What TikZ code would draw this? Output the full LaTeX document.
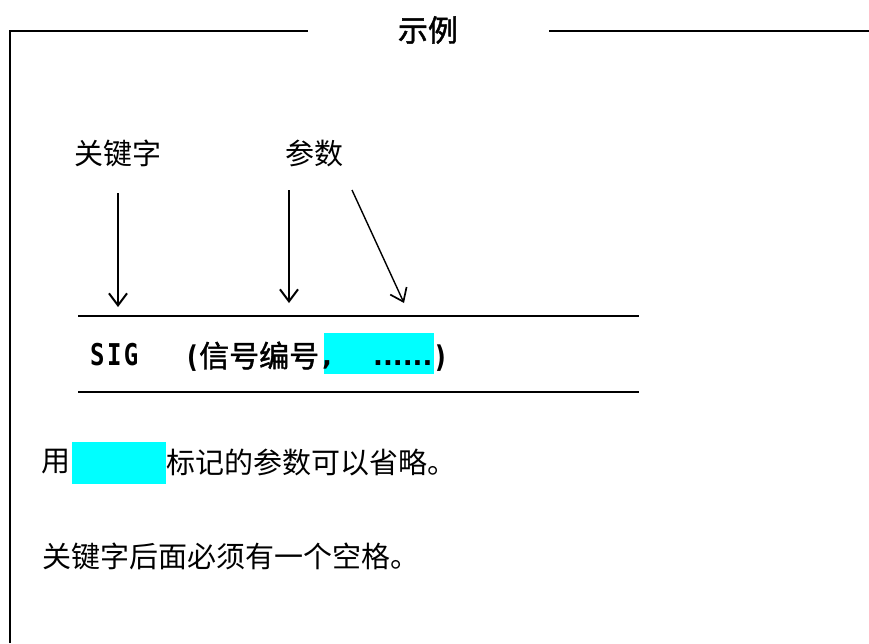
\documentclass[tikz,border=0pt]{standalone}
\usepackage{graphicx}
\usepackage{fontspec}
\usetikzlibrary{arrows.meta}
\newfontfamily\cjk{Noto Sans CJK SC}
\newfontfamily\cjkb{Noto Sans CJK SC}[FakeBold=1.5]
\newfontfamily\ascmono{DejaVu Sans Mono}
\newfontfamily\ascsans{DejaVu Sans}
\definecolor{hl}{RGB}{0,255,255}
\tikzset{
  frame/.style={line width=2pt},
  rule/.style={line width=2pt},
  lbl/.style={inner sep=0pt, font=\cjk\fontsize{29}{34}\selectfont},
  sig/.style={inner sep=0pt, anchor=base west, font=\cjkb\fontsize{30}{34}\selectfont},
  sigm/.style={inner sep=0pt, anchor=base west, font=\ascmono\bfseries\fontsize{30}{34}\selectfont},
  sigp/.style={inner sep=0pt, anchor=base west, font=\ascsans\bfseries\fontsize{26}{34}\selectfont},
  ptr/.style={line width=1.8pt, -{Straight Barb[length=12pt,width=18pt,line width=2pt]}},
  ptrthin/.style={line width=1.4pt, -{Straight Barb[length=12pt,width=18pt,line width=1.7pt]}},
  hlbox/.style={fill=hl, draw=none}
}
\begin{document}
\begin{tikzpicture}[x=1pt,y=-1pt]
\useasboundingbox (0,0) rectangle (869,643);
% frame
\draw[frame] (10,643) -- (10,31) -- (308,31);
\draw[frame] (549,31) -- (869,31);
\node[lbl, font=\cjkb\fontsize{30}{34}\selectfont] (title) at (428,30) {示例};
% labels
\node[lbl] (kw) at (118,153) {关键字};
\node[lbl] (par) at (314,153) {参数};
\coordinate (a1s) at (118,193);
\coordinate (a1e) at (118,307);
\coordinate (a2s) at (289,190);
\coordinate (a2e) at (289,303);
\coordinate (a3s) at (352,190);
\coordinate (a3e) at (404,303);
\draw[ptr] (a1s) -- (a1e);
\draw[ptr] (a2s) -- (a2e);
\draw[ptrthin] (a3s) -- (a3e);
% rules
\coordinate (r1a) at (78,316); \coordinate (r1b) at (639,316);
\coordinate (r2a) at (78,392); \coordinate (r2b) at (639,392);
\draw[rule] (r1a) -- (r1b);
\draw[rule] (r2a) -- (r2b);
% syntax line
\fill[hlbox] (324,333) rectangle (434,374);
\node[sigm] (s1) at (90,365) {\scalebox{0.8}[1]{\addfontfeatures{LetterSpace=10}SIG}};
\node[sigp] (s2) at (187,367) {\scalebox{0.9}[1.15]{(}};
\node[sig] (s3) at (199,367) {信号编号};
\node[sigp] (s4) at (322,365) {,};
\node[sigp] (s5) at (373,365) {......};
\node[sigp] (s6) at (435,367) {\scalebox{0.9}[1.15]{)}};
% notes
\fill[hlbox] (72,442) rectangle (166,484);
\node[lbl, anchor=west] (n1) at (41,462) {用};
\node[lbl, anchor=west] (n2) at (166,462) {标记的参数可以省略。};
\node[lbl, anchor=west] (n3) at (42,556) {关键字后面必须有一个空格。};
\end{tikzpicture}
\end{document}
